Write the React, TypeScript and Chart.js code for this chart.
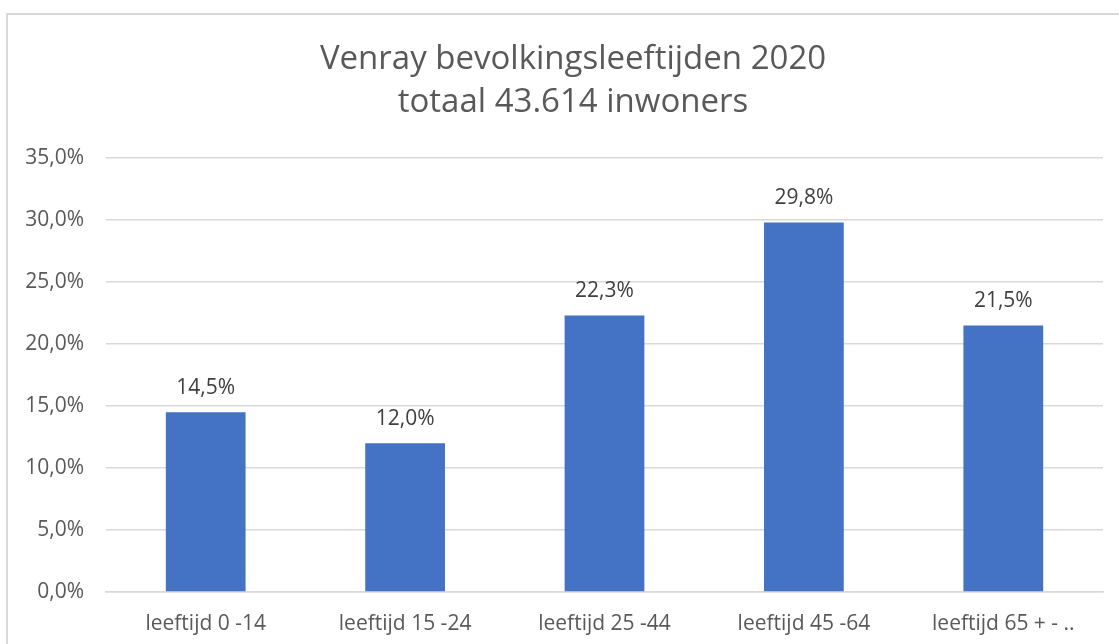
import React, { useEffect, useRef } from "react";
import { Chart, registerables } from "chart.js";

Chart.register(...registerables);

const categories = ["leeftijd 0 -14", "leeftijd 15 -24", "leeftijd 25 -44", "leeftijd 45 -64", "leeftijd 65 + - .."];
const values = [14.5, 12.0, 22.3, 29.8, 21.5];
const titleLines = ["Venray bevolkingsleeftijden 2020", "totaal 43.614 inwoners"];
const yMin = 0;
const yMax = 35;
const yStep = 5;

const FONT = "'Open Sans', sans-serif";

const fmt = (v: number) => v.toFixed(1).replace(".", ",") + "%";

const dataLabelPlugin = {
  id: "dataLabels",
  afterDatasetsDraw(chart: any) {
    const ctx = chart.ctx;
    const meta = chart.getDatasetMeta(0);
    ctx.save();
    ctx.fillStyle = "#404040";
    ctx.font = `21px ${FONT}`;
    ctx.textAlign = "center";
    ctx.textBaseline = "alphabetic";
    meta.data.forEach((bar: any, i: number) => {
      ctx.fillText(fmt(values[i]), bar.x, bar.y - 18);
    });
    ctx.restore();
  },
};

const titlePlugin = {
  id: "excelTitle",
  afterDraw(chart: any) {
    const ctx = chart.ctx;
    ctx.save();
    ctx.fillStyle = "#595959";
    ctx.font = `33px ${FONT}`;
    ctx.textAlign = "center";
    ctx.textBaseline = "alphabetic";
    titleLines.forEach((line, i) => {
      ctx.fillText(line, 573, 69 + i * 43);
    });
    ctx.restore();
  },
};

export default function App() {
  const ref = useRef<HTMLCanvasElement | null>(null);
  useEffect(() => {
    if (!ref.current) return;
    const chart = new Chart(ref.current, {
      type: "bar",
      data: {
        labels: categories,
        datasets: [
          {
            data: values,
            backgroundColor: "#4472C4",
            borderWidth: 0,
            categoryPercentage: 1,
            barPercentage: 0.4,
          },
        ],
      },
      options: {
        animation: false,
        responsive: false,
        maintainAspectRatio: false,
        layout: { padding: { left: 0, right: 16, top: 158, bottom: 0 } },
        plugins: {
          legend: { display: false },
          tooltip: { enabled: false },
          title: { display: false },
        },
        scales: {
          x: {
            grid: { display: false },
            border: { display: true, color: "#d9d9d9", width: 1.5 },
            ticks: { color: "#595959", font: { family: FONT, size: 21 }, padding: 11, maxRotation: 0 },
            afterFit(scale: any) {
              scale.height = 52;
            },
          },
          y: {
            min: yMin,
            max: yMax,
            grid: { color: "#d9d9d9", lineWidth: 1.5, drawTicks: false },
            border: { display: false },
            ticks: {
              stepSize: yStep,
              color: "#595959",
              font: { family: FONT, size: 21 },
              padding: 22,
              callback: (v: any) => fmt(Number(v)),
            },
            afterFit(scale: any) {
              scale.width = 106;
            },
          },
        },
      },
      plugins: [dataLabelPlugin, titlePlugin],
    });
    return () => chart.destroy();
  }, []);
  return (
    <div style={{ position: "fixed", left: 0, top: 0, width: 1119, height: 644, background: "#fff", overflow: "hidden" }}>
      <div
        style={{
          position: "absolute",
          left: 6,
          top: 13,
          width: 1200,
          height: 800,
          border: "2px solid #d9d9d9",
          boxSizing: "border-box",
        }}
      />
      <canvas ref={ref} width={1119} height={644} style={{ position: "absolute", left: 0, top: 0 }} />
    </div>
  );
}
